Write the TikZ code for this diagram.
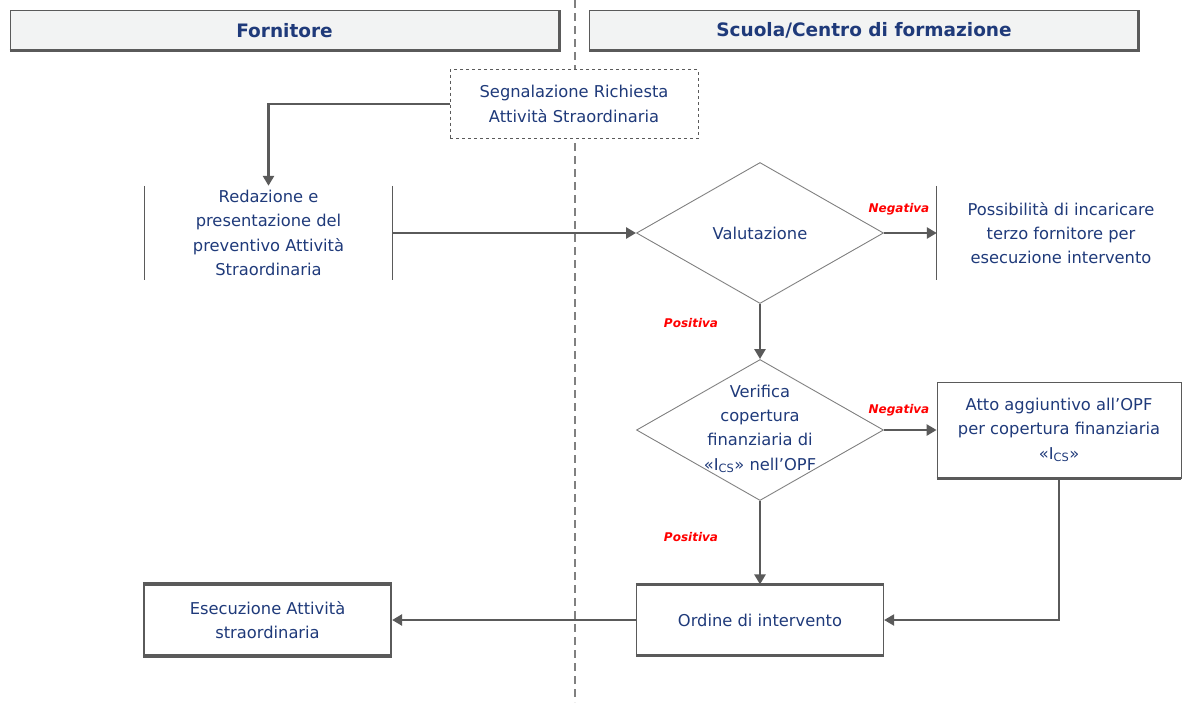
\documentclass[tikz,border=0pt]{standalone}
\usepackage{fontspec}
\setmainfont{DejaVu Sans}
\usetikzlibrary{shapes.geometric,arrows.meta}
\definecolor{navy}{HTML}{1F3A7A}
\definecolor{lgray}{HTML}{5A5A5A}
\definecolor{dgray}{HTML}{808080}
\definecolor{hfill}{HTML}{F2F3F3}
\definecolor{lred}{HTML}{FF0000}
\begin{document}
\begin{tikzpicture}[x=1pt,y=-1pt,
  txt/.style={text=navy,font=\fontsize{16.3}{24.2}\selectfont,align=center,inner sep=0pt},
  hdr/.style={draw=lgray,line width=0.8pt,fill=hfill,minimum width=549pt,minimum height=40pt,inner sep=0pt,text=navy,font=\fontsize{18.5}{20}\selectfont\bfseries},
  lbl/.style={text=lred,font=\fontsize{12}{14}\selectfont\bfseries\itshape,inner sep=0pt},
  conn/.style={draw=lgray,line width=2.6pt,-{Triangle[length=10pt,width=11pt]}},
  dia/.style={diamond,draw=dgray,line width=0.9pt,aspect=1.76,minimum width=247pt,minimum height=141pt,inner sep=0pt},
  plain/.style={txt,minimum width=247pt,minimum height=94pt},
  boxd/.style={txt,draw=lgray,line width=1.2pt,fill=white,minimum width=247pt,minimum height=70pt}
]
\useasboundingbox (0,0) rectangle (1182,702);
% swimlane separator
\draw[gray,line width=2.5pt,dash pattern=on 8pt off 5pt] (575,0) -- (575,702);
% headers
\node[hdr] (hf) at (284.5,30.5) {Fornitore};
\draw[lgray,line width=3pt] (hf.south west) -- (hf.south east) -- (hf.north east);
\node[hdr] (hs) at (864,30.5) {Scuola/Centro di formazione};
\draw[lgray,line width=3pt] (hs.south west) -- (hs.south east) -- (hs.north east);
% start
\node[txt,draw=lgray,dashed,line width=0.8pt,fill=white,minimum width=248pt,minimum height=69pt] (seg) at (574,104) {Segnalazione Richiesta\\Attività Straordinaria};
% redazione
\node[plain] (red) at (268.5,233) {Redazione e\\presentazione del\\preventivo Attività\\Straordinaria};
\draw[lgray,line width=0.8pt] (red.north west) -- (red.south west);
\draw[lgray,line width=0.8pt] (red.north east) -- (red.south east);
% valutazione
\node[dia] (val) at (760,233) {};
\node[txt] (valt) at (val.center) {Valutazione};
% possibilita
\node[plain,minimum width=248pt] (pos) at (1061,233) {Possibilità di incaricare\\terzo fornitore per\\esecuzione intervento};
\draw[lgray,line width=0.8pt] (pos.north west) -- (pos.south west);
% verifica
\node[dia] (ver) at (760,430) {};
\node[txt] (vert) at (760,429) {Verifica\\copertura\\finanziaria di\\«I\textsubscript{CS}» nell’OPF};
% atto
\node[txt,draw=lgray,line width=0.8pt,minimum width=244pt,minimum height=96pt] (atto) at (1059,430) {Atto aggiuntivo all’OPF\\per copertura finanziaria\\«I\textsubscript{CS}»};
\draw[lgray,line width=2.5pt] (atto.south west) -- (atto.south east);
% ordine
\node[boxd] (ord) at (760,620) {Ordine di intervento};
\draw[lgray,line width=3pt] (ord.north west) -- (ord.north east);
\draw[lgray,line width=3pt] (ord.south west) -- (ord.south east);
% esecuzione
\node[boxd,line width=2.2pt] (ese) at (267.5,620) {Esecuzione Attività\\straordinaria};
\draw[lgray,line width=3pt] (ese.north west) -- (ese.north east);
\draw[lgray,line width=3pt] (ese.south west) -- (ese.south east);
% connectors
\draw[conn] (seg.west) -| (red.north);
\draw[conn] (red.east) -- (val.west);
\draw[conn] (val.east) -- (pos.west);
\draw[conn] (val.south) -- (ver.north);
\draw[conn] (ver.east) -- (atto.west);
\draw[conn] (ver.south) -- (ord.north);
\draw[conn,line width=2.1pt] (atto.south) |- (ord.east);
\draw[conn] (ord.west) -- (ese.east);
% labels
\node[lbl] (n1) at (899,209) {Negativa};
\node[lbl] (n2) at (899,410) {Negativa};
\node[lbl] (p1) at (691,323) {Positiva};
\node[lbl] (p2) at (691,537) {Positiva};
\end{tikzpicture}
\end{document}
